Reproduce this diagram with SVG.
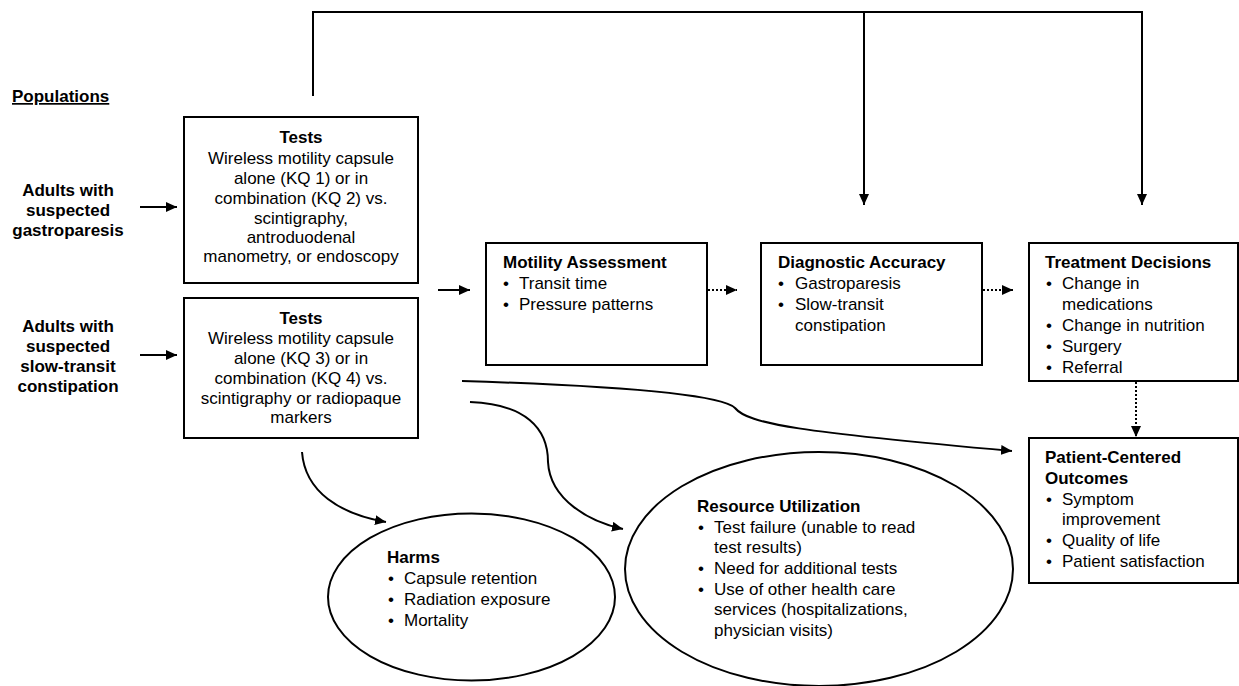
<svg xmlns="http://www.w3.org/2000/svg" width="1239" height="686" viewBox="0 0 1239 686">
<style>
text{font-family:"Liberation Sans",Arial,sans-serif;font-size:17px;fill:#000}
.b{font-weight:bold}
.c{text-anchor:middle}
.box{fill:#fff;stroke:#000;stroke-width:2}
.ln{fill:none;stroke:#000;stroke-width:2}
.dot{fill:none;stroke:#000;stroke-width:2;stroke-dasharray:2 2}
</style>
<defs>
<marker id="ah" markerUnits="userSpaceOnUse" markerWidth="12" markerHeight="10" refX="11" refY="5" orient="auto">
<path d="M0,0 L11,5 L0,10 Z" fill="#000"/>
</marker>
</defs>
<rect width="1239" height="686" fill="#fff"/>
<g id="connectors">
<path class="ln" d="M313,96 V12 H1142 V205" />
<path class="ln" d="M864,12 V205" marker-end="url(#ah)"/>
<path class="ln" d="M1142,100 V205" marker-end="url(#ah)"/>
<path class="ln" d="M140,207 H177" marker-end="url(#ah)"/>
<path class="ln" d="M140,355 H177" marker-end="url(#ah)"/>
<path class="ln" d="M438,290 H470" marker-end="url(#ah)"/>
<path class="dot" d="M708,290 H737" marker-end="url(#ah)"/>
<path class="dot" d="M983,290 H1013" marker-end="url(#ah)"/>
<path class="dot" d="M1136,382 V437" marker-end="url(#ah)"/>
<path class="ln" d="M462,381 C620,386 720,394 735,408 C748,424 800,432 1012,451" marker-end="url(#ah)"/>
<path class="ln" d="M470,402 C525,404 548,428 548,462 C550,500 590,522 623,529" marker-end="url(#ah)"/>
<path class="ln" d="M302,452 C305,492 340,514 386,522" marker-end="url(#ah)"/>
</g>
<g id="populations-label"><text x="12" y="102" class="b" text-decoration="underline">Populations</text></g>
<g id="pop-gastroparesis">
<text x="68" y="196" class="b c">Adults with</text>
<text x="68" y="216" class="b c">suspected</text>
<text x="68" y="236" class="b c">gastroparesis</text>
</g>
<g id="pop-constipation">
<text x="68" y="332" class="b c">Adults with</text>
<text x="68" y="352" class="b c">suspected</text>
<text x="68" y="372" class="b c">slow-transit</text>
<text x="68" y="392" class="b c">constipation</text>
</g>
<g id="tests1">
<rect class="box" x="184" y="117" width="234" height="166"/>
<text x="301" y="143" class="b c">Tests</text>
<text x="301" y="164" class="c">Wireless motility capsule</text>
<text x="301" y="184" class="c">alone (KQ 1) or in</text>
<text x="301" y="204" class="c">combination (KQ 2) vs.</text>
<text x="301" y="224" class="c">scintigraphy,</text>
<text x="301" y="243" class="c">antroduodenal</text>
<text x="301" y="262" class="c">manometry, or endoscopy</text>
</g>
<g id="tests2">
<rect class="box" x="184" y="298" width="234" height="140"/>
<text x="301" y="324" class="b c">Tests</text>
<text x="301" y="344" class="c">Wireless motility capsule</text>
<text x="301" y="364" class="c">alone (KQ 3) or in</text>
<text x="301" y="384" class="c">combination (KQ 4) vs.</text>
<text x="301" y="404" class="c">scintigraphy or radiopaque</text>
<text x="301" y="423" class="c">markers</text>
</g>
<g id="motility">
<rect class="box" x="486" y="243" width="221" height="122"/>
<text x="503" y="268" class="b">Motility Assessment</text>
<text x="503" y="289">•</text><text x="519" y="289">Transit time</text>
<text x="503" y="310">•</text><text x="519" y="310">Pressure patterns</text>
</g>
<g id="diagnostic">
<rect class="box" x="761" y="243" width="221" height="122"/>
<text x="778" y="268" class="b">Diagnostic Accuracy</text>
<text x="778" y="289">•</text><text x="795" y="289">Gastroparesis</text>
<text x="778" y="310">•</text><text x="795" y="310">Slow-transit</text>
<text x="795" y="331">constipation</text>
</g>
<g id="treatment">
<rect class="box" x="1029" y="243" width="209" height="138"/>
<text x="1045" y="268" class="b">Treatment Decisions</text>
<text x="1046" y="289">•</text><text x="1062" y="289">Change in</text>
<text x="1062" y="310">medications</text>
<text x="1046" y="331">•</text><text x="1062" y="331">Change in nutrition</text>
<text x="1046" y="352">•</text><text x="1062" y="352">Surgery</text>
<text x="1046" y="373">•</text><text x="1062" y="373">Referral</text>
</g>
<g id="patient">
<rect class="box" x="1029" y="438" width="209" height="145"/>
<text x="1045" y="463" class="b">Patient-Centered</text>
<text x="1045" y="484" class="b">Outcomes</text>
<text x="1046" y="505">•</text><text x="1062" y="505">Symptom</text>
<text x="1062" y="525">improvement</text>
<text x="1046" y="546">•</text><text x="1062" y="546">Quality of life</text>
<text x="1046" y="567">•</text><text x="1062" y="567">Patient satisfaction</text>
</g>
<g id="harms">
<ellipse class="box" cx="471.5" cy="597" rx="143.5" ry="83.5"/>
<text x="387" y="563" class="b">Harms</text>
<text x="388" y="584">•</text><text x="404" y="584">Capsule retention</text>
<text x="388" y="605">•</text><text x="404" y="605">Radiation exposure</text>
<text x="388" y="626">•</text><text x="404" y="626">Mortality</text>
</g>
<g id="resource">
<ellipse class="box" cx="819" cy="569" rx="194" ry="117"/>
<text x="697" y="512" class="b">Resource Utilization</text>
<text x="698" y="533">•</text><text x="714" y="533">Test failure (unable to read</text>
<text x="714" y="553">test results)</text>
<text x="698" y="574">•</text><text x="714" y="574">Need for additional tests</text>
<text x="698" y="595">•</text><text x="714" y="595">Use of other health care</text>
<text x="714" y="615">services (hospitalizations,</text>
<text x="714" y="636">physician visits)</text>
</g>
</svg>
